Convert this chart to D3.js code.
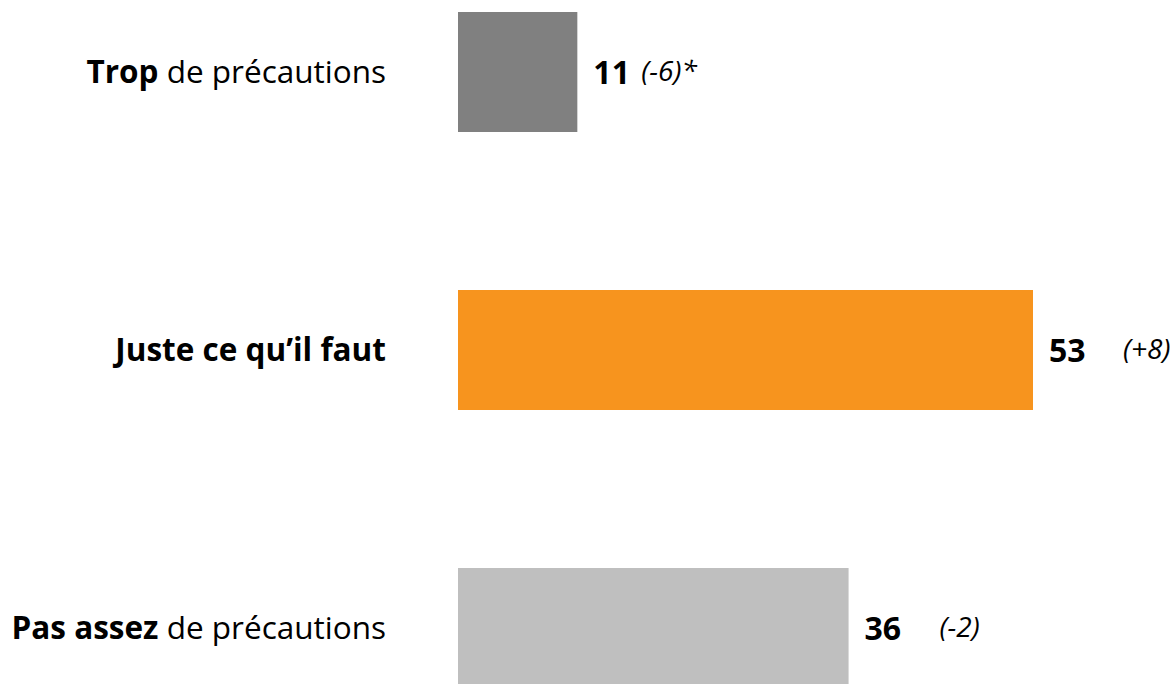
<!DOCTYPE html>
<html><head><meta charset="utf-8">
<script src="https://cdn.jsdelivr.net/npm/d3@7"></script>
<style>body{margin:0;background:#fff;}svg{display:block;font-family:"Open Sans",Lato,sans-serif;}</style>
</head><body>
<svg id="c" width="1176" height="684"></svg>
<script>
const categories = ["Trop", "Juste", "Pas assez"];
const labelBold = ["Trop", "Juste ce qu\u2019il faut", "Pas assez"];
const labelRest = [" de précautions", "", " de précautions"];
const values = [11, 53, 36];
const changes = ["(-6)*", "(+8)", "(-2)"];
const colors = ["#808080", "#F7941E", "#BFBFBF"];

const svg = d3.select("#c");
const x = d3.scaleLinear().domain([0, 53]).range([458, 1033]);
const y = d3.scaleBand().domain(categories).range([12, 688]).paddingInner(158/278).paddingOuter(0);

svg.selectAll("rect").data(categories).join("rect")
  .attr("x", x(0)).attr("y", d => y(d))
  .attr("width", (d,i) => x(values[i]) - x(0))
  .attr("height", y.bandwidth())
  .attr("fill", (d,i) => colors[i]);

const FS = 31.5;
const lab = svg.selectAll("text.lab").data(categories).join("text")
  .attr("class","lab")
  .attr("x", 386).attr("y", d => y(d) + y.bandwidth()/2)
  .attr("dy","0.35em").attr("text-anchor","end")
  .attr("font-size", FS).attr("fill","#000");
lab.append("tspan").attr("font-weight","bold").text((d,i)=>labelBold[i]);
lab.append("tspan").text((d,i)=>labelRest[i]);

const chgOffset = [64, 90, 91];
svg.selectAll("text.val").data(categories).join("text")
  .attr("class","val")
  .attr("x", (d,i)=> x(values[i]) + 16).attr("y", d => y(d) + y.bandwidth()/2)
  .attr("dy","0.36em").attr("font-size", 32).attr("font-weight","bold").attr("fill","#000")
  .text((d,i)=>values[i]);
svg.selectAll("text.chg").data(categories).join("text")
  .attr("class","chg")
  .attr("x", (d,i)=> x(values[i]) + chgOffset[i]).attr("y", d => y(d) + y.bandwidth()/2)
  .attr("dy","0.33em").attr("font-size", 28).attr("font-style","italic").attr("fill","#000")
  .text((d,i)=>changes[i]);
</script>
</body></html>
